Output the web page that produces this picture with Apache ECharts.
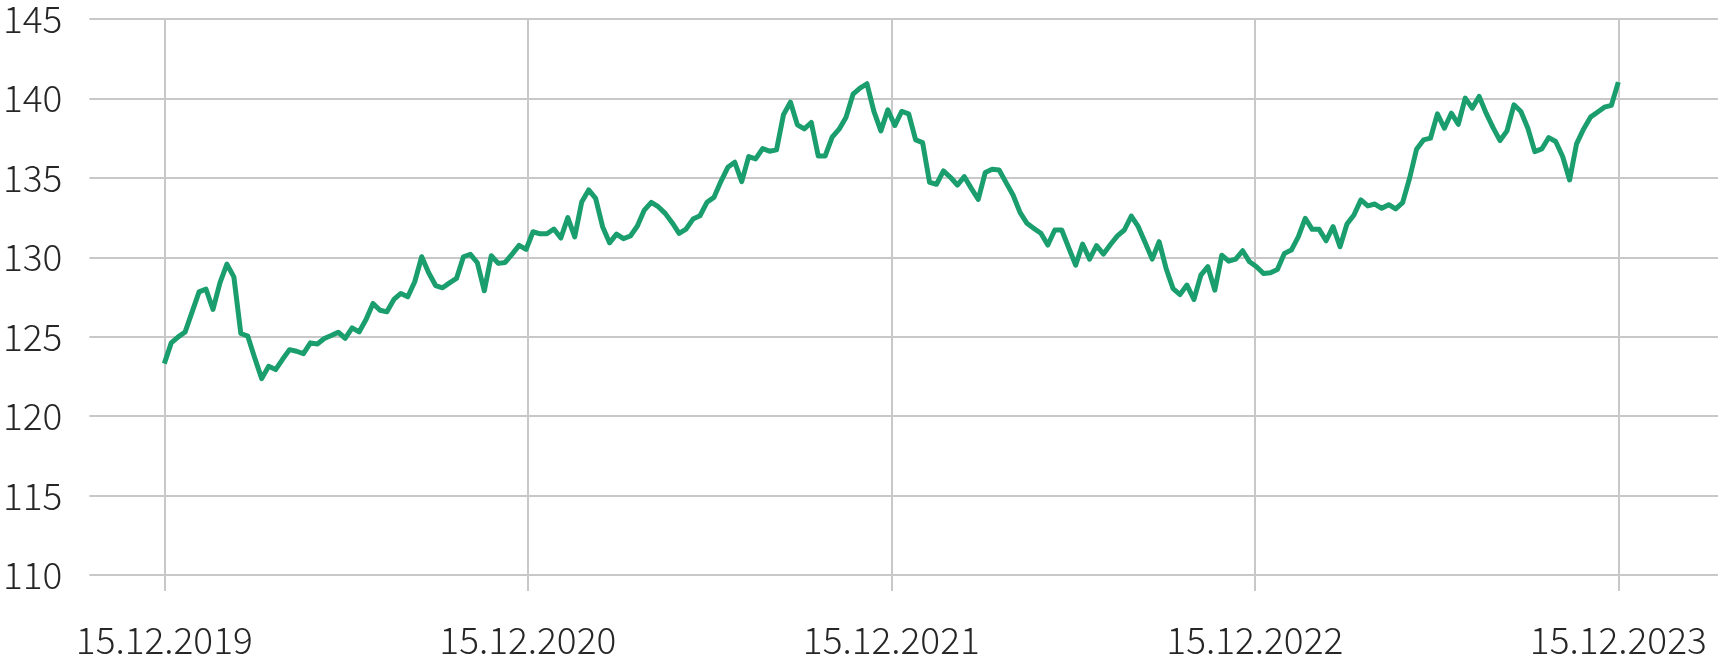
<!DOCTYPE html>
<html>
<head>
<meta charset="utf-8">
<script src="https://cdn.jsdelivr.net/npm/echarts@6/dist/echarts.min.js"></script>
<style>
html,body{margin:0;padding:0;background:#fff;}
#chart{width:1718px;height:658px;}
</style>
</head>
<body>
<div id="chart"></div>
<script>
// Tick labels on the x axis (one per year, weekly data in between)
const tickLabels = ['15.12.2019', '15.12.2020', '15.12.2021', '15.12.2022', '15.12.2023'];
const weeksPerYear = 52.25;
// Y axis range
const yMin = 110, yMax = 145, yStep = 5;
// Weekly values, starting 15.12.2019
const values = [
  123.23, 124.54, 124.92, 125.23, 126.50, 127.76, 127.93, 126.65, 128.33, 129.51,
  128.71, 125.13, 124.96, 123.59, 122.28, 123.06, 122.85, 123.50, 124.11, 124.01,
  123.86, 124.54, 124.47, 124.81, 125.00, 125.21, 124.83, 125.49, 125.23, 126.01,
  127.03, 126.60, 126.50, 127.28, 127.66, 127.45, 128.40, 129.98, 128.97, 128.16,
  128.02, 128.33, 128.61, 129.98, 130.13, 129.60, 127.83, 130.04, 129.56, 129.62,
  130.15, 130.70, 130.44, 131.56, 131.43, 131.43, 131.73, 131.16, 132.45, 131.24,
  133.44, 134.20, 133.67, 131.88, 130.86, 131.41, 131.12, 131.29, 131.92, 132.93,
  133.42, 133.14, 132.72, 132.13, 131.46, 131.73, 132.36, 132.57, 133.42, 133.73,
  134.73, 135.63, 135.95, 134.73, 136.31, 136.16, 136.81, 136.65, 136.73, 138.95,
  139.75, 138.31, 138.06, 138.46, 136.35, 136.35, 137.53, 138.04, 138.80, 140.25,
  140.63, 140.91, 139.16, 137.93, 139.26, 138.27, 139.16, 139.01, 137.36, 137.19,
  134.68, 134.56, 135.40, 135.00, 134.51, 135.04, 134.30, 133.61, 135.30, 135.51,
  135.46, 134.66, 133.88, 132.78, 132.09, 131.77, 131.46, 130.72, 131.67, 131.67,
  130.55, 129.45, 130.78, 129.83, 130.68, 130.15, 130.75, 131.30, 131.67, 132.55,
  131.88, 130.86, 129.83, 130.93, 129.24, 127.97, 127.59, 128.19, 127.28, 128.82,
  129.35, 127.87, 130.08, 129.70, 129.83, 130.36, 129.66, 129.35, 128.92, 128.97,
  129.18, 130.19, 130.40, 131.24, 132.41, 131.71, 131.71, 130.99, 131.88, 130.61,
  132.05, 132.62, 133.57, 133.19, 133.31, 133.04, 133.27, 133.00, 133.40, 134.94,
  136.77, 137.36, 137.47, 139.01, 138.10, 139.05, 138.35, 140.00, 139.37, 140.11,
  139.05, 138.14, 137.32, 137.93, 139.58, 139.16, 138.10, 136.62, 136.79, 137.51,
  137.26, 136.31, 134.83, 137.11, 138.04, 138.80, 139.11, 139.43, 139.54, 141.01
];

const seriesData = values.map((v, i) => [i, v]);
const lastIndex = values.length - 1;

const gridColor = '#c8c8c8';
const textColor = '#262626';
const font = "'Noto Sans CJK SC', 'Noto Sans', sans-serif";

const chart = echarts.init(document.getElementById('chart'), null, {renderer: 'canvas'});
chart.setOption({
  backgroundColor: '#ffffff',
  animation: false,
  grid: [
    {left: 85, right: 0, top: 19, bottom: 83, containLabel: false},
    {left: 164.3, right: 99.7, top: 19, bottom: 83, containLabel: false}
  ],
  xAxis: [
    {gridIndex: 0, type: 'value', min: 0, max: 1, show: false},
    {
      gridIndex: 1, type: 'value', min: 0, max: lastIndex, interval: weeksPerYear,
      axisLine: {show: false},
      axisTick: {show: true, length: 18, lineStyle: {color: gridColor, width: 2}},
      splitLine: {show: true, lineStyle: {color: gridColor, width: 2}},
      axisLabel: {
        margin: 48, fontSize: 37, fontWeight: 300, fontFamily: font, color: textColor,
        showMinLabel: true, showMaxLabel: true,
        formatter: v => tickLabels[Math.round(v / weeksPerYear)] || ''
      }
    }
  ],
  yAxis: [
    {
      gridIndex: 0, type: 'value', min: yMin, max: yMax, interval: yStep,
      axisLine: {show: false}, axisTick: {show: false},
      splitLine: {show: true, lineStyle: {color: gridColor, width: 2}},
      axisLabel: {margin: 27, fontSize: 37, fontWeight: 300, fontFamily: font, color: textColor}
    },
    {gridIndex: 1, type: 'value', min: yMin, max: yMax, show: false, splitLine: {show: false}}
  ],
  series: [{
    type: 'line',
    xAxisIndex: 1, yAxisIndex: 1,
    data: seriesData,
    showSymbol: false,
    lineStyle: {color: '#1a9e6e', width: 5, join: 'round'},
    itemStyle: {color: '#1a9e6e'},
    z: 5
  }]
});
</script>
</body>
</html>
